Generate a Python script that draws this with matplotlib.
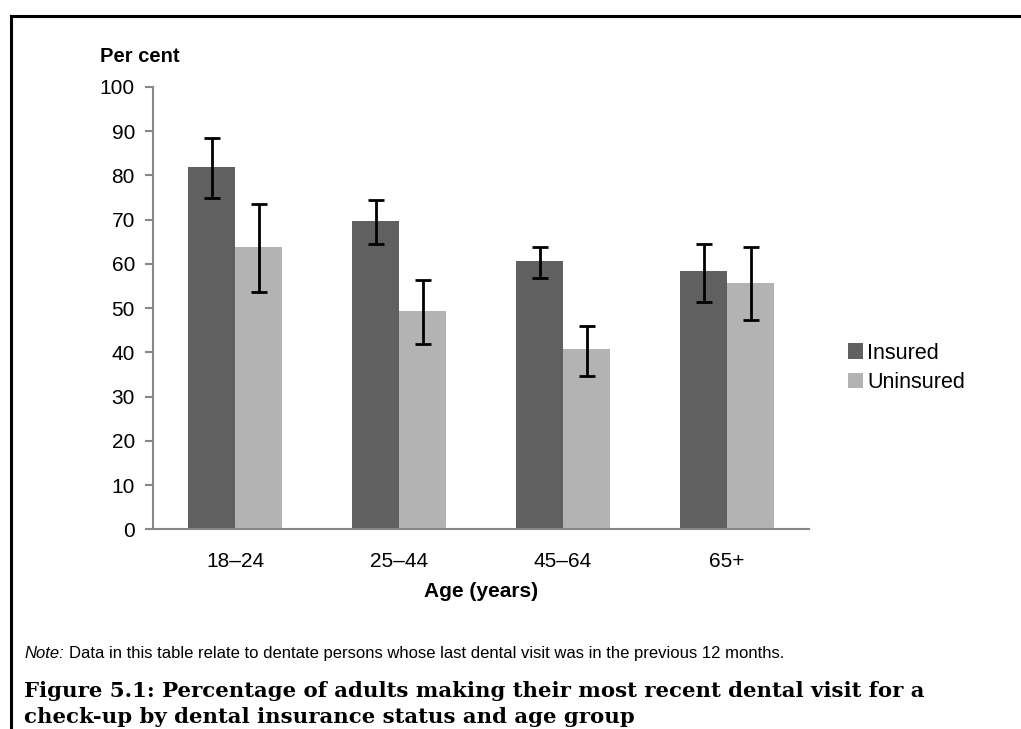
import numpy as np
import matplotlib.pyplot as plt
from matplotlib.lines import Line2D

# Data
age_groups = ["18–24", "25–44", "45–64", "65+"]
insured = [82, 69.7, 60.7, 58.3]
insured_lo = [74.9, 64.6, 56.8, 51.4]
insured_hi = [88.4, 74.5, 63.8, 64.6]
uninsured = [63.9, 49.4, 40.8, 55.7]
uninsured_lo = [53.7, 42.0, 34.7, 47.3]
uninsured_hi = [73.5, 56.3, 46.0, 63.8]

plt.rcParams['font.family'] = ['Liberation Sans', 'DejaVu Sans']

fig = plt.figure(figsize=(10.21, 7.29), dpi=100)
ax = fig.add_axes([0.1499, 0.2739, 0.6425, 0.6068])

x = np.arange(len(age_groups))
w = 0.287
ins = np.array(insured)
uni = np.array(uninsured)
ins_err = [ins - np.array(insured_lo), np.array(insured_hi) - ins]
uni_err = [uni - np.array(uninsured_lo), np.array(uninsured_hi) - uni]

err_kw = dict(ecolor='black', elinewidth=2, capsize=6, capthick=2)
ax.bar(x - w/2, ins, w, color='#606060', label='Insured', yerr=ins_err, error_kw=err_kw)
ax.bar(x + w/2, uni, w, color='#b3b3b3', label='Uninsured', yerr=uni_err, error_kw=err_kw)

ax.set_xlim(-0.5, 3.5)
ax.set_ylim(0, 100)
ax.set_yticks(range(0, 101, 10))
ax.set_xticks(x)
ax.set_xticklabels(age_groups)
ax.tick_params(axis='y', length=6, width=1.5, color='#888888', labelsize=15, pad=7)
ax.tick_params(axis='x', length=0, labelsize=15, pad=16)
for s in ['top', 'right']:
    ax.spines[s].set_visible(False)
for s in ['left', 'bottom']:
    ax.spines[s].set_color('#888888')
    ax.spines[s].set_linewidth(1.5)
ax.spines['bottom'].set_bounds(-0.52, 3.5)

ax.set_xlabel("Age (years)", fontsize=15, fontweight='bold', labelpad=8)
fig.text(0.098, 0.922, "Per cent", fontsize=14.5, fontweight='bold', va='center')

ax.legend(loc='center left', bbox_to_anchor=(1.03, 0.365), frameon=False, fontsize=15.5,
          handlelength=0.7, handleheight=0.7, handletextpad=0.2, labelspacing=0.4)

fig.text(0.0235, 0.103, "Note:", fontsize=12, style='italic', va='center')
fig.text(0.0675, 0.103, "Data in this table relate to dentate persons whose last dental visit was in the previous 12 months.",
         fontsize=12, va='center')
title_kw = dict(fontsize=15.3, fontweight='bold', family=['DejaVu Serif'], va='baseline')
fig.text(0.0235, 0.0439, "Figure 5.1: Percentage of adults making their most recent dental visit for a", **title_kw)
fig.text(0.0235, 0.0082, "check-up by dental insurance status and age group", **title_kw)

# page frame
fig.add_artist(Line2D([0.0108, 1.0], [0.978, 0.978], color='black', lw=2.2, transform=fig.transFigure))
fig.add_artist(Line2D([0.0108, 0.0108], [0.0, 0.978], color='black', lw=2.2, transform=fig.transFigure))

fig.savefig("out.png", dpi=100)
